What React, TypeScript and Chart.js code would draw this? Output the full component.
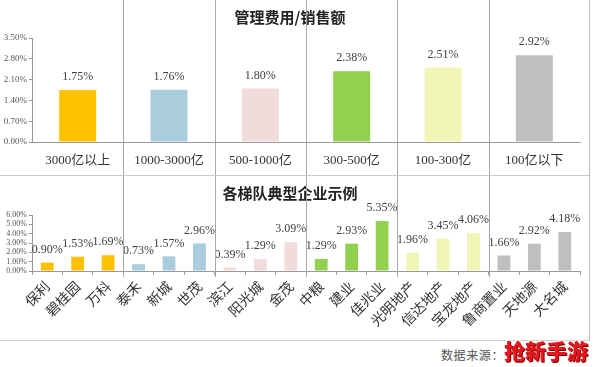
import React, { useEffect, useRef } from "react";
import { Chart, registerables } from "chart.js";

Chart.register(...registerables);

// ---------- data ----------
const tierTitle = "管理费用/销售额";
const tierCategories = ["3000亿以上", "1000-3000亿", "500-1000亿", "300-500亿", "100-300亿", "100亿以下"];
const tierValues = [1.75, 1.76, 1.8, 2.38, 2.51, 2.92];
const tierTicks = [0, 0.7, 1.4, 2.1, 2.8, 3.5];

const companyTitle = "各梯队典型企业示例";
const companies = [
  "保利", "碧桂园", "万科",
  "泰禾", "新城", "世茂",
  "滨江", "阳光城", "金茂",
  "中粮", "建业", "佳兆业",
  "光明地产", "信达地产", "宝龙地产",
  "鲁商置业", "天地源", "大名城",
];
const companyValues = [
  0.9, 1.53, 1.69,
  0.73, 1.57, 2.96,
  0.39, 1.29, 3.09,
  1.29, 2.93, 5.35,
  1.96, 3.45, 4.06,
  1.66, 2.92, 4.18,
];
const companyTicks = [0, 1, 2, 3, 4, 5, 6];

const tierColors = ["#FFC000", "#A9CDDC", "#F2DCDB", "#92D050", "#F1F5B6", "#BFBFBF"];
const sourceText = "数据来源：";
const watermarkText = "抢新手游";

// ---------- helpers ----------
const SERIF = "'Liberation Serif', 'Noto Sans CJK SC', serif";
const CJK = "'Noto Sans CJK SC', sans-serif";

const valueLabelPlugin = {
  id: "valueLabels",
  afterDatasetsDraw(chart: any) {
    const { ctx } = chart;
    const meta = chart.getDatasetMeta(0);
    const data = chart.data.datasets[0].data as number[];
    ctx.save();
    ctx.font = `12px ${SERIF}`;
    ctx.fillStyle = "#404040";
    ctx.textAlign = "center";
    ctx.textBaseline = "middle";
    meta.data.forEach((bar: any, i: number) => {
      ctx.fillText(data[i].toFixed(2) + "%", bar.x, bar.y - 13);
    });
    ctx.restore();
  },
};

const dividerPlugin = {
  id: "dividers",
  afterDraw(chart: any, _args: any, opts: any) {
    const x = chart.scales.x;
    const n = chart.data.labels.length;
    const step = opts.step || 1;
    const { ctx } = chart;
    const bottom = chart.chartArea.bottom + (opts.below || 0);
    ctx.save();
    ctx.strokeStyle = "#A8A8A8";
    ctx.lineWidth = 1;
    for (let k = step - 1; k < n - 1; k += step) {
      const px = Math.round((x.getPixelForValue(k) + x.getPixelForValue(k + 1)) / 2) + 0.5;
      ctx.beginPath();
      ctx.moveTo(px, 0);
      ctx.lineTo(px, bottom);
      ctx.stroke();
    }
    ctx.restore();
  },
};

function makeColors(count: number, per: number) {
  const out: string[] = [];
  for (let i = 0; i < count; i++) out.push(tierColors[Math.floor(i / per)]);
  return out;
}

function buildConfig(opts: {
  title: string;
  labels: string[];
  values: number[];
  ticks: number[];
  max: number;
  per: number;
  barPct: number;
  yFont: number;
  titlePadTop: number;
  titlePadBottom: number;
  xHeight: number;
  rotated: boolean;
  dividerBelow: number;
}): any {
  return {
    type: "bar",
    data: {
      labels: opts.labels,
      datasets: [
        {
          data: opts.values,
          backgroundColor: makeColors(opts.values.length, opts.per),
          barPercentage: opts.barPct,
          categoryPercentage: 1,
        },
      ],
    },
    options: {
      animation: false,
      responsive: false,
      maintainAspectRatio: false,
      devicePixelRatio: 1,
      layout: { padding: { left: 0, right: 14, top: 0, bottom: 0 } },
      plugins: {
        legend: { display: false },
        tooltip: { enabled: false },
        title: {
          display: true,
          text: opts.title,
          color: "#222",
          font: { family: CJK, size: 15, weight: "bold" },
          padding: { top: opts.titlePadTop, bottom: opts.titlePadBottom },
        },
        dividers: { step: opts.per === 1 ? 1 : opts.per, below: opts.dividerBelow },
      },
      scales: {
        x: {
          offset: true,
          grid: {
            display: true,
            offset: true,
            drawOnChartArea: false,
            drawTicks: opts.rotated,
            tickLength: 4,
            color: "#999",
          },
          border: { display: true, color: "#999" },
          ticks: {
            autoSkip: false,
            color: "#333",
            minRotation: opts.rotated ? 45 : 0,
            maxRotation: opts.rotated ? 45 : 0,
            padding: opts.rotated ? 3 : 11,
            font: opts.rotated ? { family: CJK, size: 14 } : { family: SERIF, size: 13 },
          },
          afterFit(scale: any) {
            scale.height = opts.xHeight;
          },
        },
        y: {
          min: 0,
          max: opts.max,
          grid: { display: true, drawOnChartArea: false, tickLength: 3, color: "#999" },
          border: { display: true, color: "#999" },
          ticks: {
            autoSkip: false,
            color: "#555",
            padding: 2,
            font: { family: SERIF, size: opts.yFont },
            callback: (v: any) => Number(v).toFixed(2) + "%",
          },
          afterBuildTicks(scale: any) {
            scale.ticks = opts.ticks.map((v) => ({ value: v }));
          },
          afterFit(scale: any) {
            scale.width = 32;
          },
        },
      },
    },
    plugins: [valueLabelPlugin, dividerPlugin],
  };
}

function BarCanvas({ config, width, height, top }: any) {
  const ref = useRef<HTMLCanvasElement | null>(null);
  useEffect(() => {
    if (!ref.current) return;
    const chart = new Chart(ref.current, config);
    return () => chart.destroy();
  }, []);
  return (
    <canvas
      ref={ref}
      width={width}
      height={height}
      style={{ position: "absolute", left: 0, top, width, height }}
    />
  );
}

export default function App() {
  const topConfig = buildConfig({
    title: tierTitle,
    labels: tierCategories,
    values: tierValues,
    ticks: tierTicks,
    max: 3.5,
    per: 1,
    barPct: 0.405,
    yFont: 9,
    titlePadTop: 8,
    titlePadBottom: 12,
    xHeight: 33,
    rotated: false,
    dividerBelow: 33,
  });
  const bottomConfig = buildConfig({
    title: companyTitle,
    labels: companies,
    values: companyValues,
    ticks: companyTicks,
    max: 6,
    per: 3,
    barPct: 0.42,
    yFont: 8,
    titlePadTop: 9,
    titlePadBottom: 13,
    xHeight: 71,
    rotated: true,
    dividerBelow: 6,
  });

  return (
    <div
      style={{
        position: "absolute",
        left: 0,
        top: 0,
        width: 594,
        height: 367,
        background: "#fff",
        overflow: "hidden",
      }}
    >
      <BarCanvas config={topConfig} width={594} height={175} top={0} />
      <BarCanvas config={bottomConfig} width={594} height={167} top={175} />
      <div style={{ position: "absolute", left: 0, top: 175, width: 590, height: 1, background: "#C8C8C8" }} />
      <div style={{ position: "absolute", left: 0, top: 340, width: 590, height: 1, background: "#D0D0D0" }} />
      <div style={{ position: "absolute", left: 589, top: 0, width: 1, height: 341, background: "#B8B8B8" }} />
      <div
        style={{
          position: "absolute",
          left: 441,
          top: 347,
          fontFamily: CJK,
          fontSize: 12,
          lineHeight: "16px",
          letterSpacing: 0.6,
          color: "#555",
          whiteSpace: "nowrap",
        }}
      >
        {sourceText}
      </div>
      <div
        style={{
          position: "absolute",
          left: 504,
          top: 337,
          fontFamily: CJK,
          fontSize: 21,
          fontWeight: 900,
          lineHeight: "26px",
          color: "#E8161C",
          whiteSpace: "nowrap",
          textShadow: "1px 1px 0 #7a0000, -1px -1px 0 #fff",
        }}
      >
        {watermarkText}
      </div>
    </div>
  );
}
